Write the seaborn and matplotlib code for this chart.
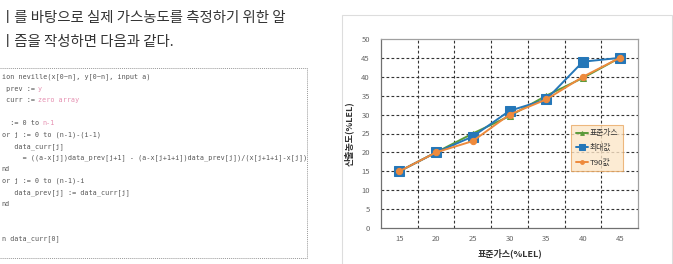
import matplotlib
matplotlib.use("Agg")
import matplotlib.pyplot as plt
import seaborn as sns
import pandas as pd
from matplotlib.patches import Rectangle

sns.set_theme(style="white")
plt.rcParams['font.family'] = ['Noto Sans CJK KR', 'DejaVu Sans']

# ---- data ----
categories = [15, 20, 25, 30, 35, 40, 45]
std_gas = [15, 20, 25, 29.6, 35, 39.7, 45]
max_val = [15, 20, 24.2, 31, 34, 44, 45]
t90_val = [15, 20, 23, 30, 34, 40, 45]
series_names = ["표준가스", "최대값", "T90값"]
y_ticks = [0, 5, 10, 15, 20, 25, 30, 35, 40, 45, 50]

intro_lines = ["ㅣ를 바탕으로 실제 가스농도를 측정하기 위한 알",
               "ㅣ즘을 작성하면 다음과 같다."]
code_lines = [
    [("ion neville(x[0~n], y[0~n], input a)", "#555555")],
    [(" prev := ", "#555555"), ("y", "#e58fb0")],
    [(" curr := ", "#555555"), ("zero array", "#e58fb0")],
    [],
    [("  := 0 to ", "#555555"), ("n-1", "#e58fb0")],
    [("or j := 0 to (n-1)-(i-1)", "#555555")],
    [("   data_curr[j]", "#555555")],
    [("     = ((a-x[j])data_prev[j+1] - (a-x[j+1+i])data_prev[j])/(x[j+1+i]-x[j])", "#555555")],
    [("nd", "#555555")],
    [("or j := 0 to (n-1)-i", "#555555")],
    [("   data_prev[j] := data_curr[j]", "#555555")],
    [("nd", "#555555")],
    [],
    [],
    [("n data_curr[0]", "#555555")],
]

W, H = 673, 264
fig = plt.figure(figsize=(W / 100, H / 100), dpi=100)
fig.patch.set_facecolor("white")

def fx(px):
    return px / W

def fy(py):
    return 1 - py / H

# ---- left text ----
fig.text(fx(1), fy(18), intro_lines[0], fontsize=10.4, color="#333333",
         va="center", ha="left")
fig.text(fx(1), fy(42), intro_lines[1], fontsize=10.4, color="#333333",
         va="center", ha="left")

# code box
fig.patches.append(Rectangle((fx(-5), fy(258)), fx(312), (258 - 68) / H,
                             transform=fig.transFigure, fill=False,
                             edgecolor="#999999", linewidth=0.7,
                             linestyle=(0, (1, 1))))
code_fs = 4.85
char_w = 0.602 * code_fs * 100 / 72
y0 = 77
dy = 11.55
for i, parts in enumerate(code_lines):
    x = 1.5
    for txt, col in parts:
        fig.text(fx(x), fy(y0 + i * dy), txt, fontsize=code_fs, color=col,
                 family="DejaVu Sans Mono", va="center", ha="left")
        x += len(txt) * char_w

# ---- chart panel ----
fig.patches.append(Rectangle((fx(342), fy(266)), fx(330), (266 - 15) / H,
                             transform=fig.transFigure, fill=False,
                             edgecolor="#dddddd", linewidth=0.8))

ax = fig.add_axes([fx(381), fy(228), fx(638 - 381), (228 - 39) / H])
xpos = list(range(len(categories)))
df = pd.DataFrame({"x": xpos * 3,
                   "y": std_gas + max_val + t90_val,
                   "series": [series_names[0]] * 7 + [series_names[1]] * 7 + [series_names[2]] * 7})

colors = {"표준가스": "#5a9a3a", "최대값": "#2577b8", "T90값": "#ee8a3c"}
markers = {"표준가스": "^", "최대값": "s", "T90값": "o"}
msizes = {"표준가스": 4.5, "최대값": 6.5, "T90값": 4.5}
for name in series_names:
    sub = df[df["series"] == name]
    sns.lineplot(data=sub, x="x", y="y", ax=ax, color=colors[name],
                 marker=markers[name], markersize=msizes[name],
                 markeredgecolor=colors[name], linewidth=1.4, label=name,
                 zorder=3)

ax.set_xlim(-0.5, len(categories) - 0.5)
ax.set_ylim(0, 50)
ax.set_yticks(y_ticks)
ax.set_yticklabels([str(v) for v in y_ticks])
ax.set_xticks(xpos)
ax.set_xticklabels([str(c) for c in categories])
ax.tick_params(axis="both", labelsize=5.5, labelcolor="#666666", length=0)
ax.tick_params(axis="x", pad=5)
ax.tick_params(axis="y", pad=8)

grid_kw = dict(color="#333333", linewidth=0.8, linestyle=(0, (2.5, 2)), zorder=1)
for v in y_ticks[1:-1]:
    ax.axhline(v, **grid_kw)
for k in range(len(categories) - 1):
    ax.axvline(k + 0.5, **grid_kw)

for s in ["top", "right"]:
    ax.spines[s].set_color("#a0a0a0")
    ax.spines[s].set_linewidth(0.9)
for s in ["left", "bottom"]:
    ax.spines[s].set_color("#707070")
    ax.spines[s].set_linewidth(0.9)

ax.set_xlabel("표준가스(%LEL)", fontsize=6.5, fontweight="bold", color="#333333", labelpad=4)
ax.set_ylabel("산출농도(%LEL)", fontsize=6.5, fontweight="bold", color="#333333", labelpad=5)

leg = ax.legend(loc="lower left", bbox_to_anchor=(0.74, 0.30), fontsize=5.6,
                frameon=True, fancybox=False, handlelength=1.6, markerscale=0.6,
                borderpad=0.6, labelspacing=0.85, handletextpad=0.2,
                borderaxespad=0)
leg.get_frame().set_facecolor("#fce6c8")
leg.get_frame().set_edgecolor("#e9a862")
leg.get_frame().set_linewidth(0.8)
for t in leg.get_texts():
    t.set_color("#333333")

fig.savefig("out.png", dpi=100)
